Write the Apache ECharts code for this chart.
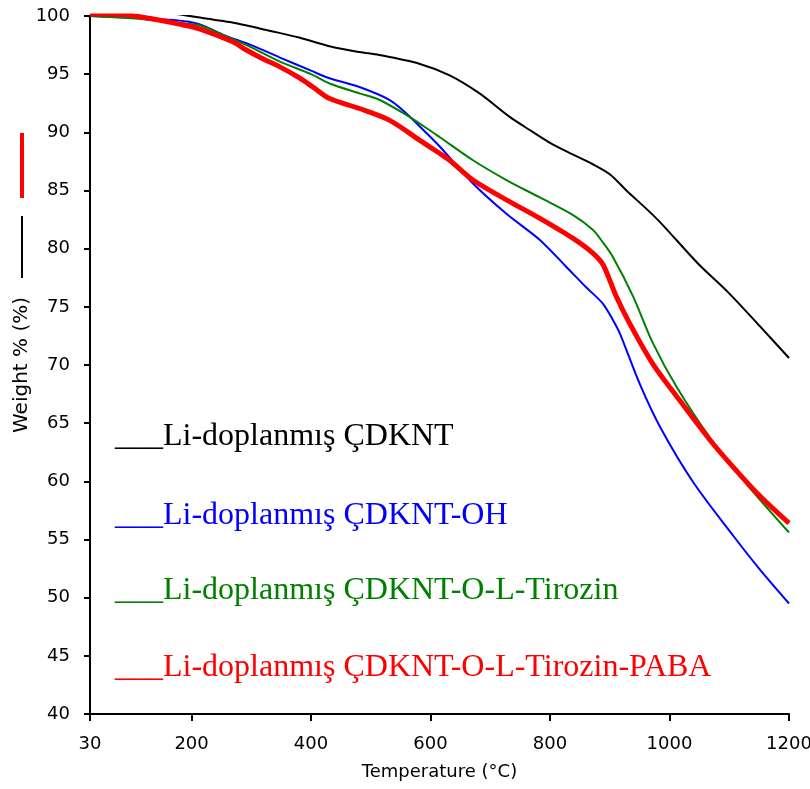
<!DOCTYPE html>
<html>
<head>
<meta charset="utf-8">
<script src="https://cdn.jsdelivr.net/npm/echarts@6/dist/echarts.min.js"></script>
<style>
html,body{margin:0;padding:0;background:#fff;}
#chart{width:810px;height:789px;}
</style>
</head>
<body>
<div id="chart"></div>
<script>
// Temperature (°C) ticks
var xTicks = [30, 200, 400, 600, 800, 1000, 1200];

// Series names
var seriesNames = [
  'Li-doplanmış ÇDKNT',
  'Li-doplanmış ÇDKNT-OH',
  'Li-doplanmış ÇDKNT-O-L-Tirozin',
  'Li-doplanmış ÇDKNT-O-L-Tirozin-PABA'
];

// [Temperature, Weight %]
var blackData = [[30,100.2],[60,100.35],[90,100.45],[130,100.35],[170,100.2],[235,99.7],[268,99.45],[300,99.1],[325,98.8],[347,98.55],[380,98.15],[431,97.4],[481,96.9],[514,96.65],[581,95.9],[632,94.9],[682,93.35],[732,91.35],[766,90.2],[800,89.1],[838,88.1],[870,87.3],[900,86.4],[927,85.05],[980,82.5],[1048,78.7],[1099,76.2],[1150,73.4],[1200,70.6]];

var blueData = [[30,100.0],[100,99.85],[170,99.65],[213,99.3],[252,98.4],[300,97.5],[347,96.45],[400,95.3],[431,94.65],[481,93.9],[531,92.8],[556,91.8],[590,90.1],[615,88.8],[671,85.6],[727,83.0],[783,80.75],[827,78.45],[860,76.7],[888,75.3],[905,73.9],[917,72.7],[950,68.4],[984,64.7],[1040,59.9],[1107,55.3],[1150,52.5],[1200,49.5]];

var greenData = [[30,100.0],[100,99.8],[180,99.4],[213,99.2],[260,98.2],[300,97.3],[347,96.1],[400,95.0],[431,94.2],[481,93.35],[514,92.8],[556,91.6],[598,90.2],[615,89.6],[671,87.6],[727,85.9],[783,84.4],[838,82.9],[872,81.6],[889,80.5],[905,79.3],[939,75.9],[972,71.9],[1012,68.1],[1067,63.8],[1130,59.7],[1200,55.6]];

var redData = [[30,100.2],[90,100.1],[129,99.8],[179,99.3],[213,98.9],[268,97.8],[291,97.1],[320,96.3],[347,95.65],[380,94.7],[403,93.9],[431,92.9],[481,92.05],[531,91.05],[581,89.35],[615,88.2],[632,87.6],[671,85.9],[727,84.2],[783,82.6],[838,80.9],[872,79.6],[889,78.6],[910,76.0],[933,73.6],[972,70.1],[1012,67.3],[1067,63.6],[1107,61.2],[1150,58.8],[1200,56.4]];

var colors = ['#000000', '#0000ff', '#008000', '#ff0000'];
var widths = [2, 2, 2, 5];
var datasets = [blackData, blueData, greenData, redData];
var textY = [439, 518, 593, 670];

var chart = echarts.init(document.getElementById('chart'));

var axisFont = 'DejaVu Sans';

var graphics = [];
for (var i = 0; i < seriesNames.length; i++) {
  graphics.push({
    type: 'text',
    left: 115,
    top: textY[i] - 18,
    style: {
      text: '___' + seriesNames[i],
      fill: colors[i],
      font: '32px "Liberation Serif", "Times New Roman", serif'
    },
    z: 100
  });
}
// legend keys inside the y axis title
graphics.push({type: 'line', shape: {x1: 22, y1: 133, x2: 22, y2: 198}, style: {stroke: '#ff0000', lineWidth: 4}});
graphics.push({type: 'line', shape: {x1: 22, y1: 216, x2: 22, y2: 278}, style: {stroke: '#000000', lineWidth: 2}});

var series = [];
for (var j = 0; j < datasets.length; j++) {
  series.push({
    name: seriesNames[j],
    type: 'line',
    data: datasets[j],
    showSymbol: false,
    symbol: 'none',
    smooth: 0.3,
    lineStyle: {color: colors[j], width: widths[j]},
    itemStyle: {color: colors[j]},
    z: 2 + j
  });
}

chart.setOption({
  animation: false,
  backgroundColor: '#ffffff',
  grid: {left: 90, right: 21, top: 16, bottom: 75, outerBoundsMode: 'none', containLabel: false},
  xAxis: {
    type: 'value',
    min: 30,
    max: 1200,
    name: 'Temperature (°C)',
    nameLocation: 'middle',
    nameGap: 49,
    nameMoveOverlap: false,
    nameTextStyle: {color: '#000', fontSize: 18, fontFamily: axisFont},
    axisLine: {show: true, onZero: false, lineStyle: {color: '#000', width: 2}},
    axisTick: {show: true, inside: false, length: 7, customValues: xTicks, lineStyle: {color: '#000', width: 2}},
    axisLabel: {show: true, margin: 21, customValues: xTicks, color: '#000', fontSize: 18, fontFamily: axisFont,
      formatter: function (v) { return String(v); }},
    splitLine: {show: false}
  },
  yAxis: {
    type: 'value',
    min: 40,
    max: 100,
    interval: 5,
    name: 'Weight % (%)',
    nameLocation: 'middle',
    nameGap: 58,
    nameRotate: 90,
    nameMoveOverlap: false,
    nameTextStyle: {color: '#000', fontSize: 20, fontFamily: axisFont},
    axisLine: {show: true, onZero: false, lineStyle: {color: '#000', width: 2}},
    axisTick: {show: true, inside: false, length: 6, lineStyle: {color: '#000', width: 2}},
    axisLabel: {show: true, margin: 20, color: '#000', fontSize: 18, fontFamily: axisFont},
    splitLine: {show: false}
  },
  graphic: graphics,
  series: series
});
</script>
</body>
</html>
